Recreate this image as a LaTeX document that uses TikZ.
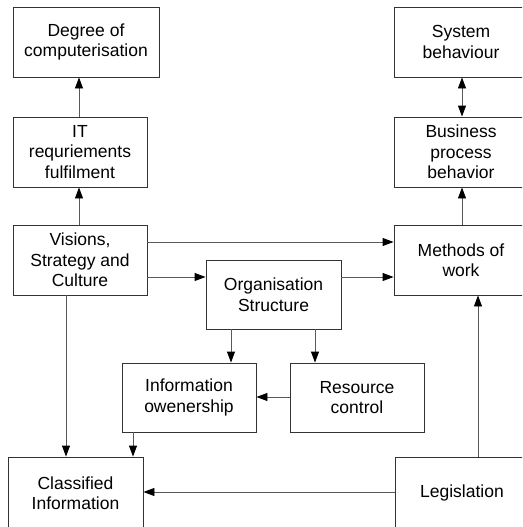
\documentclass[tikz,border=0pt]{standalone}
\usepackage{fontspec}
\setmainfont{Liberation Sans}
\usetikzlibrary{arrows.meta}
\begin{document}
\begin{tikzpicture}[x=1pt,y=1pt,
  box/.style={draw=black!80,line width=0.9pt,align=center,inner sep=0pt,
    font=\fontsize{17.5}{20.5}\selectfont,text=black},
  tip/.tip={Triangle[length=11pt,width=8pt,fill=black,color=black]},
  arr/.style={draw=black!65,line width=0.9pt,-tip},
  dbl/.style={draw=black!65,line width=0.9pt,tip-tip}]
\clip (0,0) rectangle (522,-527);
\fill[white] (0,0) rectangle (522,-527);
\node[box,minimum width=146,minimum height=70] (deg) at (86,-42) {Degree of\\computerisation};
\node[box,minimum width=134,minimum height=70] (it) at (80,-152) {IT\\requriements\\fulfilment};
\node[box,minimum width=134,minimum height=70] (vis) at (80,-260) {Visions,\\Strategy and\\Culture};
\node[box,minimum width=135,minimum height=69] (org) at (273.5,-294.5) {Organisation\\Structure};
\node[box,minimum width=134,minimum height=69] (own) at (189,-397.5) {Information\\owenership};
\node[box,minimum width=134,minimum height=69] (res) at (357,-397.5) {Resource\\control};
\node[box,minimum width=135,minimum height=72] (cla) at (75.5,-493) {Classified\\Information};
\node[box,minimum width=134,minimum height=72] (leg) at (462,-493) {Legislation};
\node[box,minimum width=134,minimum height=70] (sys) at (461,-42) {System\\behaviour};
\node[box,minimum width=134,minimum height=70] (bus) at (461,-152) {Business\\process\\behavior};
\node[box,minimum width=134,minimum height=70] (met) at (461,-260) {Methods of\\work};
\draw[arr] (it.north -| 79,0) -- (deg.south -| 79,0);
\draw[arr] (vis.north -| 79,0) -- (it.south -| 79,0);
\draw[dbl] (sys.south -| 462,0) -- (bus.north -| 462,0);
\draw[arr] (met.north -| 462,0) -- (bus.south -| 462,0);
\draw[arr] (vis.east |- 0,-242) -- (met.west |- 0,-242);
\draw[arr] (vis.east |- 0,-277) -- (org.west |- 0,-277);
\draw[arr] (org.east |- 0,-277) -- (met.west |- 0,-277);
\draw[arr] (org.south -| 231,0) -- (own.north -| 231,0);
\draw[arr] (org.south -| 315,0) -- (res.north -| 315,0);
\draw[arr] (res.west |- 0,-397) -- (own.east |- 0,-397);
\draw[arr] (own.south -| 133,0) -- (cla.north -| 133,0);
\draw[arr] (vis.south -| 66,0) -- (cla.north -| 66,0);
\draw[arr] (leg.west |- 0,-492) -- (cla.east |- 0,-492);
\draw[arr] (leg.north -| 478,0) -- (met.south -| 478,0);
\end{tikzpicture}
\end{document}
